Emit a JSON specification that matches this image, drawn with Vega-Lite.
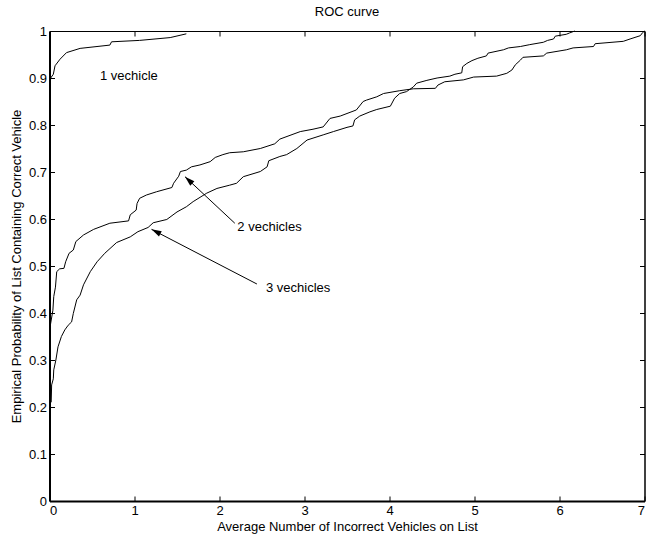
{
  "$schema": "https://vega.github.io/schema/vega-lite/v6.json",
  "width": 595,
  "height": 470,
  "autosize": {"type": "none"},
  "padding": {"left": 49.5, "top": 31, "right": 2.5, "bottom": 33},
  "title": {"text": "ROC curve", "fontSize": 13, "fontWeight": "normal", "color": "black", "anchor": "middle", "offset": 6},
  "config": {
    "font": "Liberation Sans",
    "view": {"stroke": null},
    "axis": {
      "domainColor": "black", "tickColor": "black", "labelColor": "black", "titleColor": "black",
      "labelFontSize": 13, "titleFontSize": 13, "titleFontWeight": "normal", "format": "~g",
      "grid": false, "tickSize": -5, "domainWidth": 1, "tickWidth": 1
    }
  },
  "datasets": {
    "curves": [
      {"curve": "1", "i": 0, "x": 0.0, "y": 0.876},
      {"curve": "1", "i": 1, "x": 0.014, "y": 0.9},
      {"curve": "1", "i": 2, "x": 0.045, "y": 0.908},
      {"curve": "1", "i": 3, "x": 0.065, "y": 0.926},
      {"curve": "1", "i": 4, "x": 0.124, "y": 0.94},
      {"curve": "1", "i": 5, "x": 0.2, "y": 0.954},
      {"curve": "1", "i": 6, "x": 0.36, "y": 0.963},
      {"curve": "1", "i": 7, "x": 0.71, "y": 0.97},
      {"curve": "1", "i": 8, "x": 0.73, "y": 0.977},
      {"curve": "1", "i": 9, "x": 1.06, "y": 0.98},
      {"curve": "1", "i": 10, "x": 1.42, "y": 0.986},
      {"curve": "1", "i": 11, "x": 1.61, "y": 0.994},

      {"curve": "2", "i": 0, "x": 0.01, "y": 0.374},
      {"curve": "2", "i": 1, "x": 0.04, "y": 0.406},
      {"curve": "2", "i": 2, "x": 0.05, "y": 0.435},
      {"curve": "2", "i": 3, "x": 0.07, "y": 0.455},
      {"curve": "2", "i": 4, "x": 0.085, "y": 0.488},
      {"curve": "2", "i": 5, "x": 0.12, "y": 0.494},
      {"curve": "2", "i": 6, "x": 0.17, "y": 0.495},
      {"curve": "2", "i": 7, "x": 0.19, "y": 0.509},
      {"curve": "2", "i": 8, "x": 0.23, "y": 0.527},
      {"curve": "2", "i": 9, "x": 0.28, "y": 0.534},
      {"curve": "2", "i": 10, "x": 0.31, "y": 0.552},
      {"curve": "2", "i": 11, "x": 0.4, "y": 0.566},
      {"curve": "2", "i": 12, "x": 0.52, "y": 0.578},
      {"curve": "2", "i": 13, "x": 0.71, "y": 0.591},
      {"curve": "2", "i": 14, "x": 0.93, "y": 0.596},
      {"curve": "2", "i": 15, "x": 0.95, "y": 0.609},
      {"curve": "2", "i": 16, "x": 1.02, "y": 0.619},
      {"curve": "2", "i": 17, "x": 1.03, "y": 0.633},
      {"curve": "2", "i": 18, "x": 1.06, "y": 0.644},
      {"curve": "2", "i": 19, "x": 1.14, "y": 0.651},
      {"curve": "2", "i": 20, "x": 1.26, "y": 0.658},
      {"curve": "2", "i": 21, "x": 1.44, "y": 0.667},
      {"curve": "2", "i": 22, "x": 1.46, "y": 0.676},
      {"curve": "2", "i": 23, "x": 1.52, "y": 0.691},
      {"curve": "2", "i": 24, "x": 1.54, "y": 0.701},
      {"curve": "2", "i": 25, "x": 1.61, "y": 0.704},
      {"curve": "2", "i": 26, "x": 1.67, "y": 0.711},
      {"curve": "2", "i": 27, "x": 1.77, "y": 0.715},
      {"curve": "2", "i": 28, "x": 1.89, "y": 0.722},
      {"curve": "2", "i": 29, "x": 1.95, "y": 0.731},
      {"curve": "2", "i": 30, "x": 2.04, "y": 0.737},
      {"curve": "2", "i": 31, "x": 2.12, "y": 0.741},
      {"curve": "2", "i": 32, "x": 2.28, "y": 0.743},
      {"curve": "2", "i": 33, "x": 2.48, "y": 0.75},
      {"curve": "2", "i": 34, "x": 2.65, "y": 0.76},
      {"curve": "2", "i": 35, "x": 2.71, "y": 0.77},
      {"curve": "2", "i": 36, "x": 2.95, "y": 0.786},
      {"curve": "2", "i": 37, "x": 3.1, "y": 0.791},
      {"curve": "2", "i": 38, "x": 3.22, "y": 0.796},
      {"curve": "2", "i": 39, "x": 3.3, "y": 0.814},
      {"curve": "2", "i": 40, "x": 3.42, "y": 0.819},
      {"curve": "2", "i": 41, "x": 3.61, "y": 0.832},
      {"curve": "2", "i": 42, "x": 3.69, "y": 0.85},
      {"curve": "2", "i": 43, "x": 3.73, "y": 0.853},
      {"curve": "2", "i": 44, "x": 3.85, "y": 0.86},
      {"curve": "2", "i": 45, "x": 3.93, "y": 0.867},
      {"curve": "2", "i": 46, "x": 4.12, "y": 0.873},
      {"curve": "2", "i": 47, "x": 4.28, "y": 0.877},
      {"curve": "2", "i": 48, "x": 4.54, "y": 0.878},
      {"curve": "2", "i": 49, "x": 4.57, "y": 0.885},
      {"curve": "2", "i": 50, "x": 4.65, "y": 0.892},
      {"curve": "2", "i": 51, "x": 4.87, "y": 0.896},
      {"curve": "2", "i": 52, "x": 4.99, "y": 0.902},
      {"curve": "2", "i": 53, "x": 5.26, "y": 0.904},
      {"curve": "2", "i": 54, "x": 5.38, "y": 0.91},
      {"curve": "2", "i": 55, "x": 5.44, "y": 0.917},
      {"curve": "2", "i": 56, "x": 5.48, "y": 0.928},
      {"curve": "2", "i": 57, "x": 5.54, "y": 0.938},
      {"curve": "2", "i": 58, "x": 5.57, "y": 0.944},
      {"curve": "2", "i": 59, "x": 5.81, "y": 0.947},
      {"curve": "2", "i": 60, "x": 5.85, "y": 0.953},
      {"curve": "2", "i": 61, "x": 6.08, "y": 0.96},
      {"curve": "2", "i": 62, "x": 6.16, "y": 0.964},
      {"curve": "2", "i": 63, "x": 6.4, "y": 0.967},
      {"curve": "2", "i": 64, "x": 6.42, "y": 0.973},
      {"curve": "2", "i": 65, "x": 6.75, "y": 0.978},
      {"curve": "2", "i": 66, "x": 6.83, "y": 0.983},
      {"curve": "2", "i": 67, "x": 6.95, "y": 0.99},
      {"curve": "2", "i": 68, "x": 6.98, "y": 0.997},
      {"curve": "2", "i": 69, "x": 7.0, "y": 1.0},

      {"curve": "3", "i": 0, "x": 0.02, "y": 0.21},
      {"curve": "3", "i": 1, "x": 0.025, "y": 0.247},
      {"curve": "3", "i": 2, "x": 0.045, "y": 0.26},
      {"curve": "3", "i": 3, "x": 0.05, "y": 0.279},
      {"curve": "3", "i": 4, "x": 0.075, "y": 0.3},
      {"curve": "3", "i": 5, "x": 0.1, "y": 0.328},
      {"curve": "3", "i": 6, "x": 0.14, "y": 0.35},
      {"curve": "3", "i": 7, "x": 0.18, "y": 0.364},
      {"curve": "3", "i": 8, "x": 0.22, "y": 0.374},
      {"curve": "3", "i": 9, "x": 0.26, "y": 0.381},
      {"curve": "3", "i": 10, "x": 0.28, "y": 0.399},
      {"curve": "3", "i": 11, "x": 0.32, "y": 0.428},
      {"curve": "3", "i": 12, "x": 0.36, "y": 0.438},
      {"curve": "3", "i": 13, "x": 0.4, "y": 0.46},
      {"curve": "3", "i": 14, "x": 0.48, "y": 0.488},
      {"curve": "3", "i": 15, "x": 0.56, "y": 0.509},
      {"curve": "3", "i": 16, "x": 0.65, "y": 0.527},
      {"curve": "3", "i": 17, "x": 0.79, "y": 0.55},
      {"curve": "3", "i": 18, "x": 0.95, "y": 0.562},
      {"curve": "3", "i": 19, "x": 1.04, "y": 0.573},
      {"curve": "3", "i": 20, "x": 1.16, "y": 0.582},
      {"curve": "3", "i": 21, "x": 1.22, "y": 0.592},
      {"curve": "3", "i": 22, "x": 1.38, "y": 0.599},
      {"curve": "3", "i": 23, "x": 1.5, "y": 0.615},
      {"curve": "3", "i": 24, "x": 1.61, "y": 0.626},
      {"curve": "3", "i": 25, "x": 1.69, "y": 0.637},
      {"curve": "3", "i": 26, "x": 1.85, "y": 0.655},
      {"curve": "3", "i": 27, "x": 1.97, "y": 0.665},
      {"curve": "3", "i": 28, "x": 2.12, "y": 0.672},
      {"curve": "3", "i": 29, "x": 2.2, "y": 0.676},
      {"curve": "3", "i": 30, "x": 2.28, "y": 0.69},
      {"curve": "3", "i": 31, "x": 2.48, "y": 0.701},
      {"curve": "3", "i": 32, "x": 2.56, "y": 0.711},
      {"curve": "3", "i": 33, "x": 2.58, "y": 0.724},
      {"curve": "3", "i": 34, "x": 2.71, "y": 0.733},
      {"curve": "3", "i": 35, "x": 2.79, "y": 0.737},
      {"curve": "3", "i": 36, "x": 2.91, "y": 0.75},
      {"curve": "3", "i": 37, "x": 3.03, "y": 0.768},
      {"curve": "3", "i": 38, "x": 3.22, "y": 0.779},
      {"curve": "3", "i": 39, "x": 3.34, "y": 0.786},
      {"curve": "3", "i": 40, "x": 3.5, "y": 0.795},
      {"curve": "3", "i": 41, "x": 3.57, "y": 0.798},
      {"curve": "3", "i": 42, "x": 3.59, "y": 0.811},
      {"curve": "3", "i": 43, "x": 3.65, "y": 0.819},
      {"curve": "3", "i": 44, "x": 3.77, "y": 0.828},
      {"curve": "3", "i": 45, "x": 3.85, "y": 0.833},
      {"curve": "3", "i": 46, "x": 4.01, "y": 0.84},
      {"curve": "3", "i": 47, "x": 4.06, "y": 0.857},
      {"curve": "3", "i": 48, "x": 4.12, "y": 0.867},
      {"curve": "3", "i": 49, "x": 4.2, "y": 0.871},
      {"curve": "3", "i": 50, "x": 4.28, "y": 0.881},
      {"curve": "3", "i": 51, "x": 4.32, "y": 0.889},
      {"curve": "3", "i": 52, "x": 4.44, "y": 0.895},
      {"curve": "3", "i": 53, "x": 4.56, "y": 0.9},
      {"curve": "3", "i": 54, "x": 4.71, "y": 0.904},
      {"curve": "3", "i": 55, "x": 4.77, "y": 0.908},
      {"curve": "3", "i": 56, "x": 4.85, "y": 0.911},
      {"curve": "3", "i": 57, "x": 4.86, "y": 0.924},
      {"curve": "3", "i": 58, "x": 4.91, "y": 0.931},
      {"curve": "3", "i": 59, "x": 4.97, "y": 0.937},
      {"curve": "3", "i": 60, "x": 5.04, "y": 0.942},
      {"curve": "3", "i": 61, "x": 5.14, "y": 0.947},
      {"curve": "3", "i": 62, "x": 5.16, "y": 0.953},
      {"curve": "3", "i": 63, "x": 5.34, "y": 0.96},
      {"curve": "3", "i": 64, "x": 5.4, "y": 0.964},
      {"curve": "3", "i": 65, "x": 5.54, "y": 0.967},
      {"curve": "3", "i": 66, "x": 5.65, "y": 0.971},
      {"curve": "3", "i": 67, "x": 5.81, "y": 0.976},
      {"curve": "3", "i": 68, "x": 5.86, "y": 0.98},
      {"curve": "3", "i": 69, "x": 5.93, "y": 0.983},
      {"curve": "3", "i": 70, "x": 5.95, "y": 0.989},
      {"curve": "3", "i": 71, "x": 6.08, "y": 0.993},
      {"curve": "3", "i": 72, "x": 6.12, "y": 0.996},
      {"curve": "3", "i": 73, "x": 6.18, "y": 1.0}
    ],
    "labels": [
      {"text": "1 vechicle", "x": 0.594, "y": 0.904},
      {"text": "2 vechicles", "x": 2.21, "y": 0.584},
      {"text": "3 vechicles", "x": 2.547, "y": 0.4526}
    ],
    "arrows": [
      {"label": "2", "x": 2.18, "y": 0.591, "x2": 1.594, "y2": 0.69},
      {"label": "3", "x": 2.44, "y": 0.4617, "x2": 1.2, "y2": 0.578}
    ]
  },
  "layer": [
    {
      "data": {"name": "curves"},
      "mark": {"type": "line", "color": "black", "strokeWidth": 1, "interpolate": "linear"},
      "encoding": {
        "x": {"field": "x", "type": "quantitative", "scale": {"domain": [0, 7], "nice": false, "zero": false},
              "axis": {"orient": "bottom", "values": [0,1,2,3,4,5,6,7], "title": "Average Number of Incorrect Vehicles on List", "labelPadding": 8, "titlePadding": 3, "domainWidth": 2}},
        "y": {"field": "y", "type": "quantitative", "scale": {"domain": [0, 1], "nice": false, "zero": false},
              "axis": {"orient": "left", "values": [0,0.1,0.2,0.3,0.4,0.5,0.6,0.7,0.8,0.9,1], "title": "Empirical Probability of List Containing Correct Vehicle", "labelPadding": 8, "titlePadding": 5, "domainWidth": 2}},
        "detail": {"field": "curve", "type": "nominal"},
        "order": {"field": "i", "type": "quantitative"}
      }
    },
    {
      "data": {"name": "labels"},
      "mark": {"type": "text", "align": "left", "baseline": "middle", "fontSize": 13, "color": "black"},
      "encoding": {
        "x": {"field": "x", "type": "quantitative", "scale": {"domain": [0, 7], "nice": false, "zero": false},
              "axis": {"orient": "top", "values": [0,1,2,3,4,5,6,7], "labels": false, "title": null}},
        "y": {"field": "y", "type": "quantitative", "scale": {"domain": [0, 1], "nice": false, "zero": false},
              "axis": {"orient": "right", "values": [0,0.1,0.2,0.3,0.4,0.5,0.6,0.7,0.8,0.9,1], "labels": false, "title": null, "domainWidth": 1.5}},
        "text": {"field": "text", "type": "nominal"}
      }
    },
    {
      "data": {"name": "arrows"},
      "mark": {"type": "rule", "color": "black", "strokeWidth": 1},
      "encoding": {
        "x": {"field": "x", "type": "quantitative", "axis": null},
        "y": {"field": "y", "type": "quantitative", "axis": null},
        "x2": {"field": "x2"},
        "y2": {"field": "y2"}
      }
    },
    {
      "data": {"name": "arrows"},
      "transform": [{"filter": "datum.label == '2'"}],
      "mark": {"type": "point", "shape": "M0,0L-0.3,1L0.3,1Z", "size": 400, "filled": true, "color": "black", "opacity": 1, "angle": 313},
      "encoding": {
        "x": {"field": "x2", "type": "quantitative", "axis": null},
        "y": {"field": "y2", "type": "quantitative", "axis": null}
      }
    },
    {
      "data": {"name": "arrows"},
      "transform": [{"filter": "datum.label == '3'"}],
      "mark": {"type": "point", "shape": "M0,0L-0.3,1L0.3,1Z", "size": 400, "filled": true, "color": "black", "opacity": 1, "angle": 297.5},
      "encoding": {
        "x": {"field": "x2", "type": "quantitative", "axis": null},
        "y": {"field": "y2", "type": "quantitative", "axis": null}
      }
    }
  ],
  "resolve": {"axis": {"x": "independent", "y": "independent"}}
}
